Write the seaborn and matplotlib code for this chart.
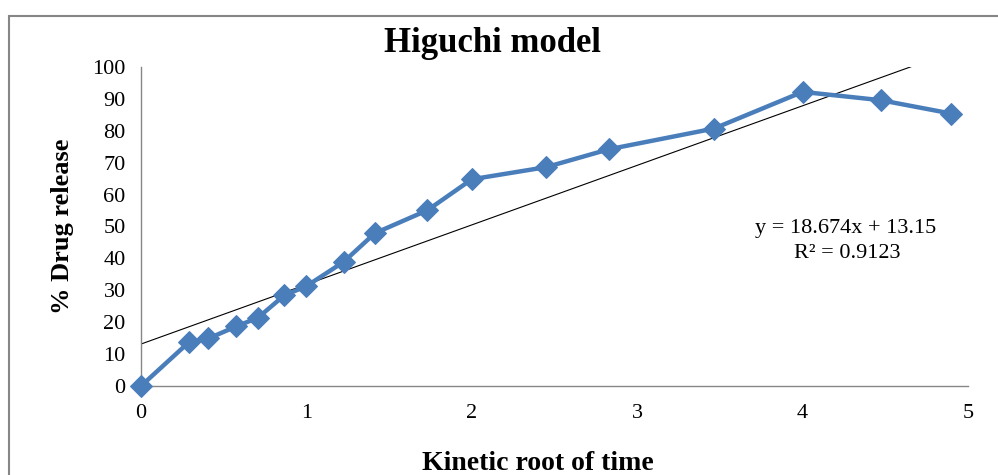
import matplotlib
matplotlib.use("Agg")
import matplotlib.pyplot as plt
from matplotlib.patches import Rectangle
import numpy as np
import pandas as pd
import seaborn as sns

# Data
root_time = [0, 0.289, 0.408, 0.577, 0.707, 0.866, 1.0, 1.225, 1.414, 1.732,
             2.0, 2.449, 2.828, 3.464, 4.0, 4.472, 4.899]
drug_release = [0, 13.7, 14.9, 18.7, 21.4, 28.4, 31.3, 38.9, 47.9, 55.1,
                64.8, 68.6, 74.2, 80.7, 92.2, 89.6, 85.4]
slope = 18.674
intercept = 13.15
r_squared = 0.9123
x_ticks = [0, 1, 2, 3, 4, 5]
y_ticks = [0, 10, 20, 30, 40, 50, 60, 70, 80, 90, 100]

sns.set_style("white")
plt.rcParams['font.family'] = ['Liberation Serif', 'DejaVu Serif']
plt.rcParams['text.color'] = 'black'

df = pd.DataFrame({"x": root_time, "y": drug_release})

W, H = 998, 475
fig = plt.figure(figsize=(W / 100, H / 100), dpi=100)
ax = fig.add_axes([141 / W, 1 - 386 / H, (968 - 141) / W, (386 - 67) / H])

blue = "#4A7EBB"
grey = "#868686"

# trendline
xt = np.array([min(root_time), max(root_time)])
ax.plot(xt, slope * xt + intercept, color="black", lw=0.8, zorder=2)

sns.lineplot(data=df, x="x", y="y", ax=ax, color=blue, lw=3.2, marker="D",
             markersize=11, markeredgecolor=blue, clip_on=False, zorder=3)

ax.set_xlim(0, 5)
ax.set_ylim(0, 100)
ax.set_xticks(x_ticks)
ax.set_yticks(y_ticks)
ax.set_xlabel("")
ax.set_ylabel("")
for s in ["top", "right"]:
    ax.spines[s].set_visible(False)
for s in ["left", "bottom"]:
    ax.spines[s].set_color(grey)
    ax.spines[s].set_linewidth(1.0)
ax.tick_params(axis="both", direction="out", length=5, width=1.0, color=grey,
               labelsize=16, labelcolor="black")
ax.tick_params(axis="y", pad=6)
ax.tick_params(axis="x", pad=8)
ax.set_facecolor("white")

fig.text(492 / W, 1 - 44 / H, "Higuchi model", ha="center", va="center",
         fontsize=25, fontweight="bold", color="black")
fig.text(538 / W, 1 - 463 / H, "Kinetic root of time", ha="center", va="center",
         fontsize=20, fontweight="bold", color="black")
fig.text(62 / W, 1 - 226 / H, "% Drug release", ha="center", va="center",
         rotation=90, fontsize=19, fontweight="bold", color="black")
fig.text(846 / W, 1 - 228 / H, f"y = {slope}x + {intercept}", ha="center",
         va="center", fontsize=16, color="black")
fig.text(847 / W, 1 - 253 / H, f"R² = {r_squared}", ha="center",
         va="center", fontsize=16, color="black")

# outer chart border (cropped at right and bottom)
fig.patches.append(Rectangle((9 / W, -0.1), 1.2, 1.1 - 16 / H,
                             transform=fig.transFigure, fill=False,
                             edgecolor=grey, lw=1.5))

fig.savefig("out.png", dpi=100)
